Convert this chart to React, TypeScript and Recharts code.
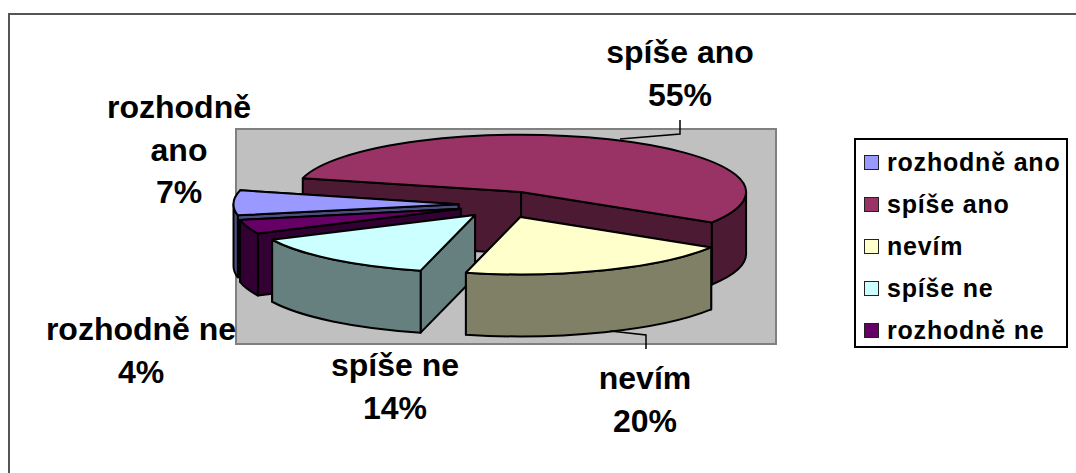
import { Legend, Pie, PieChart } from 'recharts';

// legend order (the way the sheet lists them)
const categories = ['rozhodně ano', 'spíše ano', 'nevím', 'spíše ne', 'rozhodně ne'];
const shares = [7, 55, 20, 14, 4];
const topColors = ['#9999FF', '#993366', '#FFFFCC', '#CCFFFF', '#660066'];
const sideColors = ['#4D4D80', '#4D1A33', '#808066', '#668080', '#330033'];

// slices are painted back to front, going counterclockwise from "spíše ano"
const paintOrder = ['spíše ano', 'rozhodně ano', 'rozhodně ne', 'spíše ne', 'nevím'];

const labelLines: Record<string, string[]> = {
  'rozhodně ano': ['rozhodně', 'ano'],
  'spíše ano': ['spíše ano'],
  nevím: ['nevím'],
  'spíše ne': ['spíše ne'],
  'rozhodně ne': ['rozhodně ne'],
};

// centre x and first baseline of each data label
const labelPos: Record<string, [number, number]> = {
  'rozhodně ano': [179, 118],
  'spíše ano': [680, 63],
  nevím: [645, 389],
  'spíše ne': [395, 376],
  'rozhodně ne': [141, 340],
};

const leaders: Record<string, string> = {
  'spíše ano': '680,120 680,134 620,139',
  nevím: '646,349 646,335 610,331',
};

const pieData = paintOrder.map((name) => {
  const i = categories.indexOf(name);
  return { name, value: shares[i], top: topColors[i], side: sideColors[i] };
});

const CX = 503.5;
const CY = 204.5;
const RADIUS = 225;
const SQUASH = 0.255;
const DEPTH = 62;
const EXPLODE_X = 45;
const EXPLODE_Y = 13.5;
const FONT = '"Liberation Sans", Arial, sans-serif';

const rad = (d: number) => (d * Math.PI) / 180;

function Slice3D(props: any) {
  const { cx, cy, outerRadius, startAngle, endAngle, midAngle, payload } = props;
  const rx = outerRadius;
  const ry = outerRadius * SQUASH;
  const ax = cx + EXPLODE_X * Math.cos(rad(midAngle));
  const ay = cy - EXPLODE_Y * Math.sin(rad(midAngle));
  // t runs clockwise on screen
  const t0 = -Math.max(startAngle, endAngle);
  const t1 = -Math.min(startAngle, endAngle);
  const pt = (t: number, dy = 0) => ({
    x: ax + rx * Math.cos(rad(t)),
    y: ay + ry * Math.sin(rad(t)) + dy,
  });
  const arc = (t: number, large: boolean, sweep: number, dy = 0) => {
    const p = pt(t, dy);
    return `A${rx} ${ry} 0 ${large ? 1 : 0} ${sweep} ${p.x} ${p.y}`;
  };

  const faces = [t0, t1].sort((a, b) => pt(a).y - pt(b).y);

  // only the part of the rim facing the viewer gets a wall
  const walls: string[] = [];
  [-360, 0, 360].forEach((k) => {
    const a = Math.max(t0, k);
    const b = Math.min(t1, k + 180);
    if (b > a) {
      const p = pt(a);
      walls.push(
        `M${p.x} ${p.y}${arc(b, false, 1)}L${pt(b, DEPTH).x} ${pt(b, DEPTH).y}${arc(a, false, 0, DEPTH)}Z`,
      );
    }
  });

  const p0 = pt(t0);
  const common = { stroke: '#000', strokeWidth: 2, strokeLinejoin: 'round' as const };
  return (
    <g>
      {faces.map((t) => {
        const p = pt(t);
        return (
          <path
            key={t}
            d={`M${ax} ${ay}L${p.x} ${p.y}L${p.x} ${p.y + DEPTH}L${ax} ${ay + DEPTH}Z`}
            fill={payload.side}
            {...common}
          />
        );
      })}
      {walls.map((d) => (
        <path key={d} d={d} fill={payload.side} {...common} />
      ))}
      <path
        d={`M${ax} ${ay}L${p0.x} ${p0.y}${arc(t1, t1 - t0 > 180, 1)}Z`}
        fill={payload.top}
        {...common}
      />
    </g>
  );
}

function SliceLabel(props: any) {
  const { name, value } = props;
  const [x, y] = labelPos[name];
  const lines = [...labelLines[name], `${value}%`];
  return (
    <g>
      {leaders[name] && <polyline points={leaders[name]} fill="none" stroke="#000" strokeWidth={1.5} />}
      {lines.map((line, i) => (
        <text
          key={line}
          x={x}
          y={y + i * 42.5}
          textAnchor="middle"
          fontFamily={FONT}
          fontWeight="bold"
          fontSize={32}
          fill="#000"
        >
          {line}
        </text>
      ))}
    </g>
  );
}

function LegendBox() {
  return (
    <div
      style={{
        width: 214,
        height: 210,
        boxSizing: 'border-box',
        border: '2px solid #000',
        background: '#fff',
        paddingTop: 1,
      }}
    >
      {categories.map((name, i) => (
        <div
          key={name}
          style={{
            display: 'flex',
            alignItems: 'center',
            height: 42,
            paddingLeft: 8,
            fontFamily: FONT,
            fontWeight: 'bold',
            fontSize: 25,
            letterSpacing: 0.8,
            whiteSpace: 'nowrap',
            color: '#000',
          }}
        >
          <span
            style={{
              width: 15,
              height: 15,
              boxSizing: 'border-box',
              border: '1.5px solid #222',
              background: topColors[i],
              marginRight: 8,
              flex: 'none',
            }}
          />
          {name}
        </div>
      ))}
    </div>
  );
}

export default function App() {
  return (
    <div style={{ position: 'absolute', left: 0, top: 0, width: 1076, height: 473 }}>
      <PieChart width={1076} height={473} margin={{ top: 0, right: 0, bottom: 0, left: 0 }}>
        <rect x={0} y={0} width={1076} height={473} fill="#fff" />
        <rect x={9} y={14} width={1100} height={500} fill="#fff" stroke="#555" strokeWidth={2} />
        <rect x={236} y={129} width={540} height={215} fill="#C0C0C0" stroke="#808080" strokeWidth={2} />
        <Pie
          data={pieData}
          dataKey="value"
          nameKey="name"
          cx={CX}
          cy={CY}
          innerRadius={0}
          outerRadius={RADIUS}
          startAngle={-32}
          endAngle={328}
          paddingAngle={0}
          minAngle={0}
          stroke="none"
          shape={Slice3D}
          label={SliceLabel}
          labelLine={false}
          isAnimationActive={false}
        />
        <Legend
          content={<LegendBox />}
          wrapperStyle={{ left: 854, top: 138, width: 214, height: 210, bottom: 'auto', right: 'auto' }}
        />
      </PieChart>
    </div>
  );
}
